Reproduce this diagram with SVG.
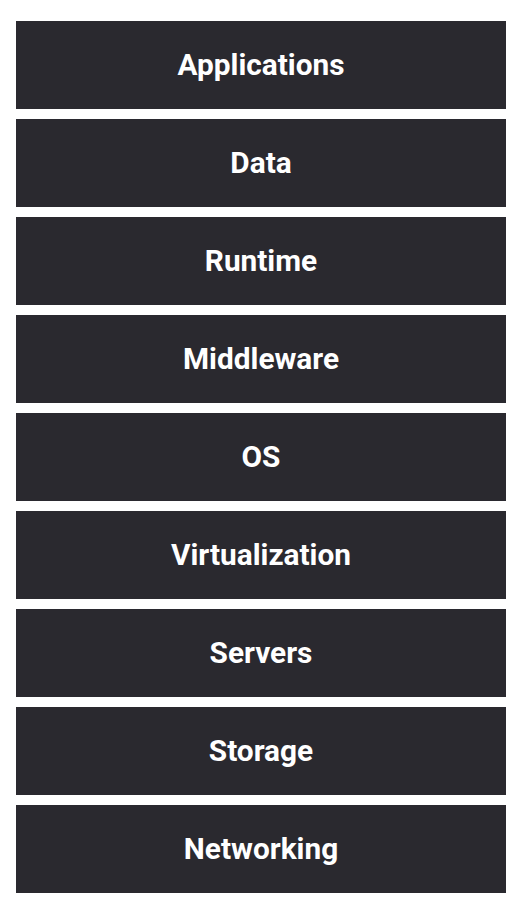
<svg xmlns="http://www.w3.org/2000/svg" width="522" height="912" viewBox="0 0 522 912">
<style>
.box{fill:#2a292f}
.lbl{fill:#ffffff;font-family:Roboto,"Liberation Sans",sans-serif;font-weight:700;font-size:29.8px;text-anchor:middle;dominant-baseline:central}
</style>
<rect width="522" height="912" fill="#ffffff"/>
<g id="applications"><rect class="box" x="16" y="21" width="490" height="88"/><text class="lbl" x="261" y="64">Applications</text></g>
<g id="data"><rect class="box" x="16" y="119" width="490" height="88"/><text class="lbl" x="261" y="162">Data</text></g>
<g id="runtime"><rect class="box" x="16" y="217" width="490" height="88"/><text class="lbl" x="261" y="260">Runtime</text></g>
<g id="middleware"><rect class="box" x="16" y="315" width="490" height="88"/><text class="lbl" x="261" y="358">Middleware</text></g>
<g id="os"><rect class="box" x="16" y="413" width="490" height="88"/><text class="lbl" x="261" y="456">OS</text></g>
<g id="virtualization"><rect class="box" x="16" y="511" width="490" height="88"/><text class="lbl" x="261" y="554">Virtualization</text></g>
<g id="servers"><rect class="box" x="16" y="609" width="490" height="88"/><text class="lbl" x="261" y="652">Servers</text></g>
<g id="storage"><rect class="box" x="16" y="707" width="490" height="88"/><text class="lbl" x="261" y="750">Storage</text></g>
<g id="networking"><rect class="box" x="16" y="805" width="490" height="88"/><text class="lbl" x="261" y="848">Networking</text></g>
<g id="connectors"></g>
</svg>
